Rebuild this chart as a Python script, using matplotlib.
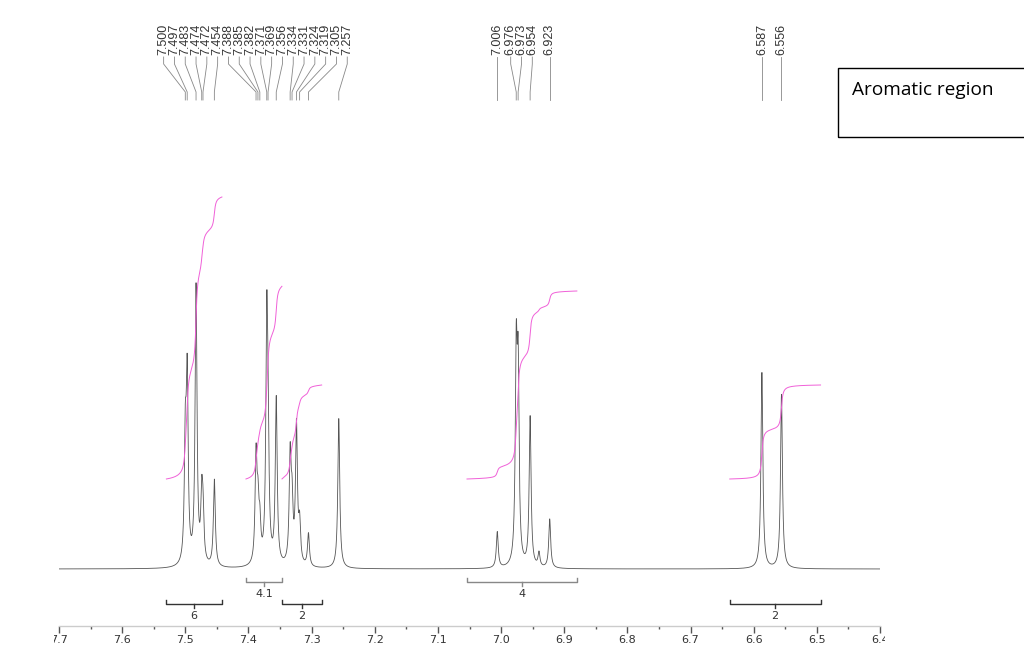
import matplotlib
matplotlib.use("Agg")
import matplotlib.pyplot as plt
from matplotlib.patches import Rectangle
from matplotlib.transforms import Bbox, TransformedBbox
from matplotlib.ticker import MultipleLocator
import numpy as np

# peaks (ppm, height above baseline)
peak_ppm = [7.500, 7.497, 7.483, 7.474, 7.472, 7.454,
            7.388, 7.385, 7.382, 7.371, 7.369, 7.356,
            7.334, 7.331, 7.324, 7.319, 7.305, 7.257,
            7.006, 6.976, 6.973, 6.954, 6.940, 6.923,
            6.587, 6.556]
peak_height = [115, 179, 278, 60, 45, 87,
               105, 50, 35, 226, 100, 166,
               105, 55, 138, 38, 33, 150,
               36, 199, 180, 150, 14, 49,
               196, 174]
hwhm = 0.0018

# labelled shifts
label_ppm = [7.500, 7.497, 7.483, 7.474, 7.472, 7.454, 7.388, 7.385, 7.382,
             7.371, 7.369, 7.356, 7.334, 7.331, 7.324, 7.319, 7.305, 7.257,
             7.006, 6.976, 6.973, 6.954, 6.923, 6.587, 6.556]

# integral regions: start, end (ppm), value, row (0 upper, 1 lower)
int_start = [7.530, 7.404, 7.347, 7.054, 6.638]
int_end = [7.442, 7.347, 7.284, 6.880, 6.494]
int_value = [6, 4.1, 2, 4, 2]
int_label = ["6", "4.1", "2", "4", "2"]
int_row = [1, 0, 1, 0, 1]

ppm = np.linspace(7.7, 6.4, 10000)
spec = np.zeros_like(ppm)
for p, h in zip(peak_ppm, peak_height):
    spec += h / (1 + ((ppm - p) / hwhm) ** 2)

fig = plt.figure(figsize=(10.24, 6.70), dpi=100)
ax = fig.add_axes([59/1024, 44/670, (880-59)/1024, 626/670])
ax.set_xlim(7.7, 6.4)
ax.set_ylim(-57, 569)

ax.plot(ppm, spec, color='#555555', lw=0.6)

# integral curves and brackets
int_scale = 47
for s, e, v, lab, row in zip(int_start, int_end, int_value, int_label, int_row):
    m = (ppm <= s) & (ppm >= e)
    cum = np.cumsum(spec[m])
    cum = cum / cum[-1]
    ax.plot(ppm[m], 90 + v * int_scale * cum, color='#f060d8', lw=0.7)
    yb = -13 if row == 0 else -35
    col = '#888888' if row == 0 else '#333333'
    ax.plot([s, s, e, e], [yb + 4, yb, yb, yb + 4], color=col, lw=1, clip_on=False)
    mid = (s + e) / 2
    ax.plot([mid, mid], [yb, yb - 4], color=col, lw=1, clip_on=False)
    ax.text(mid, yb - 12, lab, ha='center', va='center', fontsize=8,
            color='#333333', clip_on=False)

# spread peak labels so they do not overlap
def spread(pos, gap):
    clusters = [[p] for p in sorted(pos)]
    changed = True
    while changed:
        changed = False
        new = []
        for c in clusters:
            if new:
                prev = new[-1]
                prev_end = np.mean(prev) + (len(prev) - 1) / 2 * gap
                c_start = np.mean(c) - (len(c) - 1) / 2 * gap
                if c_start - prev_end < gap - 1e-9:
                    new[-1] = prev + c
                    changed = True
                    continue
            new.append(c)
        clusters = new
    out = []
    for c in clusters:
        mc = np.mean(c)
        out += [mc + (i - (len(c) - 1) / 2) * gap for i in range(len(c))]
    return out

gap = 10.8 / 631.5
lab_u = spread([-p for p in label_ppm], gap)
for p, u in zip(sorted(label_ppm, reverse=True), lab_u):
    xl = -u
    ax.plot([xl, xl, p, p], [512, 505, 477, 469], color='#888888', lw=0.6,
            clip_on=False)
    ax.text(xl, 514, f"{p:.3f}", rotation=90, ha='center', va='bottom',
            fontsize=9, family='Liberation Sans', color='#333333', clip_on=False)

# axis styling
for side in ['left', 'right', 'top']:
    ax.spines[side].set_visible(False)
ax.spines['bottom'].set_color('#cccccc')
ax.spines['bottom'].set_linewidth(1)
ax.set_yticks([])
ax.xaxis.set_minor_locator(MultipleLocator(0.05))
ax.tick_params(axis='x', which='major', length=5, width=1, color='#555555',
               labelsize=8, labelcolor='#333333', pad=1.5)
ax.tick_params(axis='x', which='minor', length=2.5, width=1, color='#555555')
xt = np.round(np.arange(7.7, 6.35, -0.1), 1)
ax.set_xticks(xt)
ax.set_xticklabels([f"{t:.1f}" for t in xt])

# note box
fig.patches.append(Rectangle((838/1024, 1 - 137/670), 200/1024, 69/670,
                             transform=fig.transFigure, fill=False,
                             edgecolor='black', lw=1))
fig.text(852/1024, 1 - 90/670, "Aromatic region", fontsize=13.7,
         family='Open Sans', va='center', ha='left', color='black')

fig.canvas.draw()
clip = TransformedBbox(Bbox([[54/1024, 0], [885/1024, 1]]), fig.transFigure)
for t in ax.get_xticklabels():
    t.set_clip_box(clip)
    t.set_clip_on(True)

fig.savefig("out.png", dpi=100)
